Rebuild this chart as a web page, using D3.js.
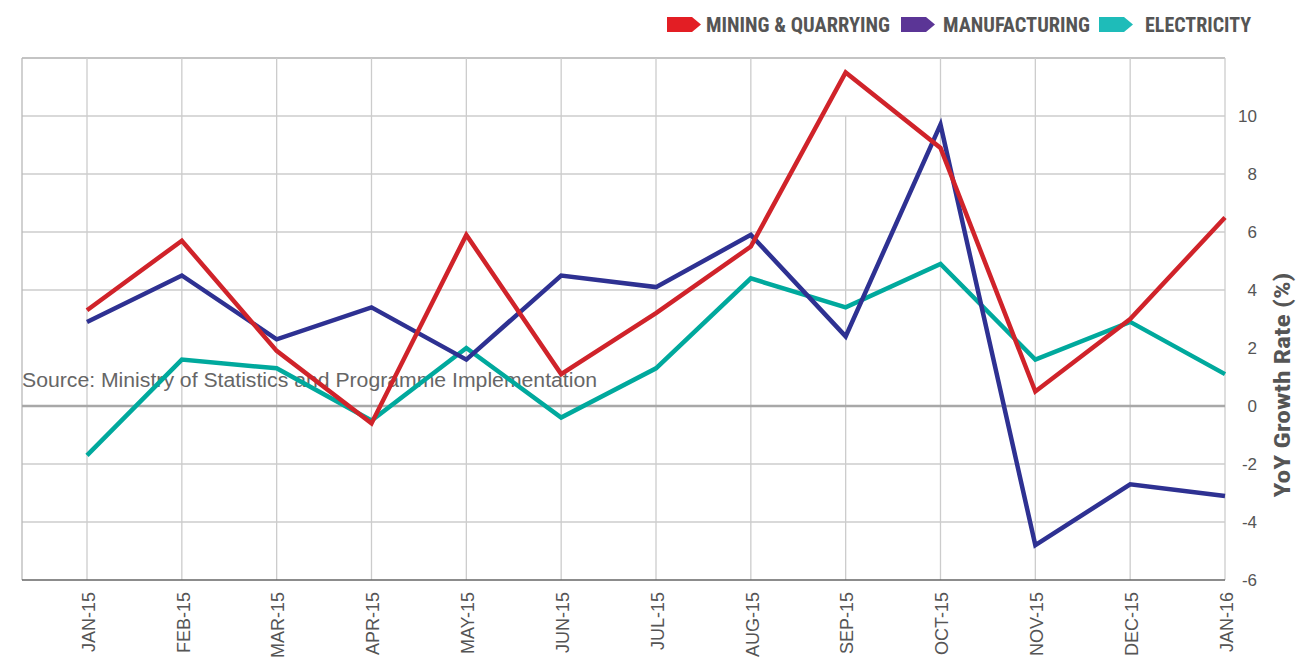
<!DOCTYPE html>
<html>
<head>
<meta charset="utf-8">
<script src="https://cdn.jsdelivr.net/npm/d3@7"></script>
<style>
  html, body { margin: 0; padding: 0; background: #fff; }
  svg { display: block; }
</style>
</head>
<body>
<svg id="chart" width="1296" height="659"></svg>
<script>
const months = ["JAN-15","FEB-15","MAR-15","APR-15","MAY-15","JUN-15","JUL-15","AUG-15","SEP-15","OCT-15","NOV-15","DEC-15","JAN-16"];
const mining = [3.3, 5.7, 1.9, -0.6, 5.9, 1.1, 3.2, 5.5, 11.5, 8.9, 0.5, 3.0, 6.5];
const manufacturing = [2.9, 4.5, 2.3, 3.4, 1.6, 4.5, 4.1, 5.9, 2.4, 9.7, -4.8, -2.7, -3.1];
const electricity = [-1.7, 1.6, 1.3, -0.5, 2.0, -0.4, 1.3, 4.4, 3.4, 4.9, 1.6, 2.9, 1.1];
const yTickValues = [-6, -4, -2, 0, 2, 4, 6, 8, 10];
const gridValues = [-4, -2, 4, 6, 8, 10, 12];
const seriesNames = ["MINING & QUARRYING", "MANUFACTURING", "ELECTRICITY"];
const sourceText = "Source: Ministry of Statistics and Programme Implementation";
const yTitle = "YoY Growth Rate (%)";

(function () {
const svg = d3.select("#chart");
const pLeft = 22, pRight = 1225, pTop = 58, pBottom = 580;
const x = d3.scalePoint().domain(months).range([87, 1225]);
const y = d3.scaleLinear().domain([-6, 12]).range([pBottom, pTop]);

const condensed = "'Liberation Sans Narrow', 'Arial Narrow', 'Roboto Condensed', 'DejaVu Sans Condensed', sans-serif";
const sans = "'Liberation Sans', Arial, Helvetica, sans-serif";

// grid
const grid = svg.append("g");
grid.selectAll("line.h").data(gridValues).enter().append("line")
  .attr("x1", pLeft).attr("x2", pRight)
  .attr("y1", d => y(d)).attr("y2", d => y(d))
  .attr("stroke", d => d === 12 ? "#b0b0b0" : "#cccccc").attr("stroke-width", 1.3);
grid.selectAll("line.v").data(months).enter().append("line")
  .attr("x1", d => x(d)).attr("x2", d => x(d))
  .attr("y1", d => d === "SEP-15" ? y(10) : pTop).attr("y2", pBottom)
  .attr("stroke", "#cccccc").attr("stroke-width", 1.3);
grid.append("line").attr("x1", pLeft).attr("x2", pLeft).attr("y1", pTop).attr("y2", pBottom)
  .attr("stroke", "#b8b8b8").attr("stroke-width", 1.3);
grid.append("line").attr("x1", pLeft).attr("x2", pRight).attr("y1", y(0)).attr("y2", y(0))
  .attr("stroke", "#a8a8a8").attr("stroke-width", 2.5);
grid.append("line").attr("x1", pLeft).attr("x2", pRight).attr("y1", y(-6)).attr("y2", y(-6))
  .attr("stroke", "#666").attr("stroke-width", 1.5);

// source text (below lines)
const src = svg.append("text").attr("x", pLeft).attr("y", 387)
  .attr("font-family", sans).attr("font-size", 19.5).attr("fill", "#666")
  .text(sourceText);
const sl = src.node().getComputedTextLength();
if (Math.abs(sl - 575) > 4) src.attr("textLength", 575).attr("lengthAdjust", "spacingAndGlyphs");

// lines
const line = d3.line().x((d, i) => x(months[i])).y(d => y(d));
const series = [
  {vals: electricity, color: "#00a99d"},
  {vals: manufacturing, color: "#2e3192"},
  {vals: mining, color: "#d0232a"}
];
svg.selectAll("path.series").data(series).enter().append("path")
  .attr("class", "series")
  .attr("d", d => line(d.vals))
  .attr("fill", "none").attr("stroke", d => d.color).attr("stroke-width", 4.5)
  .attr("stroke-linejoin", "miter").attr("stroke-miterlimit", 10);

// y axis (right)
const yAxis = svg.append("g").attr("transform", "translate(1257,0)")
  .call(d3.axisRight(y).tickValues(yTickValues).tickSize(0).tickPadding(0).tickFormat(d => String(d)));
yAxis.select(".domain").remove();
yAxis.selectAll("text").attr("text-anchor", "end").attr("x", 0).attr("dy", "0.35em")
  .attr("font-family", sans).attr("font-size", 17).attr("fill", "#555");

// x axis labels
const xAxis = svg.append("g").attr("transform", `translate(0,${pBottom})`)
  .call(d3.axisBottom(x).tickSize(0).tickPadding(0));
xAxis.select(".domain").remove();
xAxis.selectAll("text")
  .attr("transform", "rotate(-90)")
  .attr("text-anchor", "end").attr("x", -12).attr("y", 1).attr("dy", "0.35em")
  .attr("font-family", sans).attr("font-size", 18).attr("fill", "#555");

// y title
svg.append("text").attr("transform", "translate(1290,385) rotate(-90)")
  .attr("text-anchor", "middle")
  .attr("font-family", condensed).attr("font-weight", "bold").attr("font-size", 22).attr("fill", "#555")
  .attr("textLength", 225).attr("lengthAdjust", "spacingAndGlyphs")
  .text(yTitle);

// legend
const legendItems = [
  {name: seriesNames[0], color: "#e31e24", ax: 667, tx: 706, tw: 184},
  {name: seriesNames[1], color: "#5b3596", ax: 901, tx: 943, tw: 147},
  {name: seriesNames[2], color: "#1ebcb9", ax: 1099, tx: 1145, tw: 106}
];
const lg = svg.append("g");
lg.selectAll("polygon").data(legendItems).enter().append("polygon")
  .attr("points", d => {
    const w = 34, h = 15, t = 17;
    return [[d.ax, t], [d.ax + w - 9, t], [d.ax + w, t + h / 2], [d.ax + w - 9, t + h], [d.ax, t + h]].map(p => p.join(",")).join(" ");
  })
  .attr("fill", d => d.color);
lg.selectAll("text").data(legendItems).enter().append("text")
  .attr("x", d => d.tx).attr("y", 32)
  .attr("font-family", condensed).attr("font-weight", "bold").attr("font-size", 20).attr("fill", "#555")
  .attr("textLength", d => d.tw).attr("lengthAdjust", "spacingAndGlyphs")
  .text(d => d.name);
})();
</script>
</body>
</html>
